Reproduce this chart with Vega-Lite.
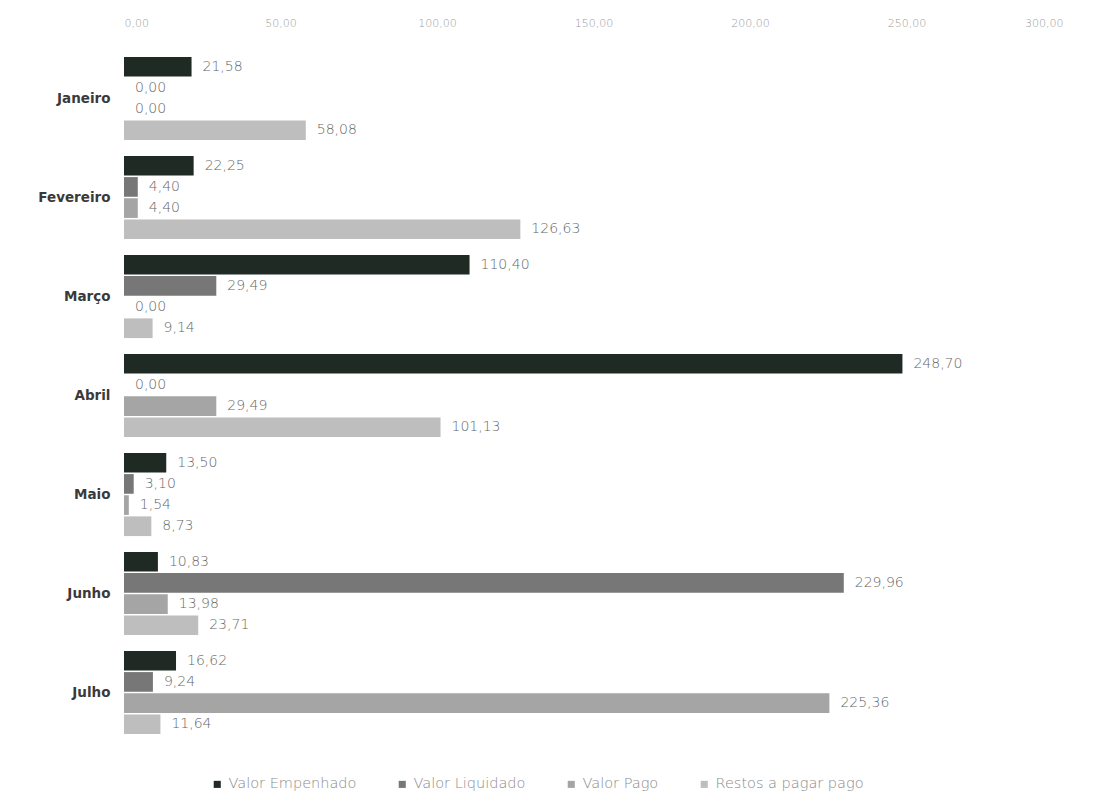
{
  "$schema": "https://vega.github.io/schema/vega-lite/v6.json",
  "autosize": "none",
  "width": 939,
  "height": 693,
  "padding": {"left": 124, "top": 49, "right": 34, "bottom": 53},
  "background": "white",
  "data": {
    "values": [
      {"mes": "Janeiro", "serie": "Valor Empenhado", "valor": 21.58},
      {"mes": "Janeiro", "serie": "Valor Liquidado", "valor": 0},
      {"mes": "Janeiro", "serie": "Valor Pago", "valor": 0},
      {"mes": "Janeiro", "serie": "Restos a pagar pago", "valor": 58.08},
      {"mes": "Fevereiro", "serie": "Valor Empenhado", "valor": 22.25},
      {"mes": "Fevereiro", "serie": "Valor Liquidado", "valor": 4.40},
      {"mes": "Fevereiro", "serie": "Valor Pago", "valor": 4.40},
      {"mes": "Fevereiro", "serie": "Restos a pagar pago", "valor": 126.63},
      {"mes": "Março", "serie": "Valor Empenhado", "valor": 110.40},
      {"mes": "Março", "serie": "Valor Liquidado", "valor": 29.49},
      {"mes": "Março", "serie": "Valor Pago", "valor": 0},
      {"mes": "Março", "serie": "Restos a pagar pago", "valor": 9.14},
      {"mes": "Abril", "serie": "Valor Empenhado", "valor": 248.70},
      {"mes": "Abril", "serie": "Valor Liquidado", "valor": 0},
      {"mes": "Abril", "serie": "Valor Pago", "valor": 29.49},
      {"mes": "Abril", "serie": "Restos a pagar pago", "valor": 101.13},
      {"mes": "Maio", "serie": "Valor Empenhado", "valor": 13.50},
      {"mes": "Maio", "serie": "Valor Liquidado", "valor": 3.10},
      {"mes": "Maio", "serie": "Valor Pago", "valor": 1.54},
      {"mes": "Maio", "serie": "Restos a pagar pago", "valor": 8.73},
      {"mes": "Junho", "serie": "Valor Empenhado", "valor": 10.83},
      {"mes": "Junho", "serie": "Valor Liquidado", "valor": 229.96},
      {"mes": "Junho", "serie": "Valor Pago", "valor": 13.98},
      {"mes": "Junho", "serie": "Restos a pagar pago", "valor": 23.71},
      {"mes": "Julho", "serie": "Valor Empenhado", "valor": 16.62},
      {"mes": "Julho", "serie": "Valor Liquidado", "valor": 9.24},
      {"mes": "Julho", "serie": "Valor Pago", "valor": 225.36},
      {"mes": "Julho", "serie": "Restos a pagar pago", "valor": 11.64}
    ]
  },
  "encoding": {
    "y": {
      "field": "mes", "type": "nominal",
      "sort": ["Janeiro", "Fevereiro", "Março", "Abril", "Maio", "Junho", "Julho"],
      "scale": {"paddingInner": 0.16, "paddingOuter": 0.08},
      "axis": {"title": null, "domain": false, "ticks": false, "labelPadding": 14, "labelFontSize": 13.5, "labelFontWeight": "bold", "labelColor": "#3a3a3a", "labelFont": "DejaVu Sans"}
    },
    "yOffset": {
      "field": "serie", "type": "nominal",
      "sort": ["Valor Empenhado", "Valor Liquidado", "Valor Pago", "Restos a pagar pago"],
      "scale": {"paddingInner": 0.07}
    },
    "x": {
      "field": "valor", "type": "quantitative",
      "scale": {"domain": [0, 300], "nice": false},
      "axis": {"orient": "top", "title": null, "values": [0, 50, 100, 150, 200, 250, 300], "format": ".2f", "domain": false, "ticks": false, "grid": false, "labelPadding": 21, "labelFontSize": 11, "labelFontWeight": 300, "labelColor": "#999999", "labelFont": "DejaVu Sans"}
    }
  },
  "layer": [
    {
      "mark": {"type": "bar"},
      "encoding": {
        "color": {
          "field": "serie", "type": "nominal",
          "sort": ["Valor Empenhado", "Valor Liquidado", "Valor Pago", "Restos a pagar pago"],
          "scale": {"domain": ["Valor Empenhado", "Valor Liquidado", "Valor Pago", "Restos a pagar pago"], "range": ["#1f2a25", "#777777", "#a5a5a5", "#bebebe"]},
          "legend": {"title": null, "orient": "none", "legendX": 86, "legendY": 728, "direction": "horizontal", "symbolType": "square", "symbolSize": 50, "labelFontSize": 14.5, "labelFontWeight": 300, "labelColor": "#8a8a8a", "labelFont": "DejaVu Sans", "columnPadding": 38, "symbolStrokeWidth": 0}
        }
      }
    },
    {
      "mark": {"type": "text", "align": "left", "baseline": "middle", "dx": 11, "fontSize": 14, "fontWeight": 300, "color": "#666666", "font": "DejaVu Sans"},
      "encoding": {
        "text": {"field": "valor", "type": "quantitative", "format": ".2f"}
      }
    }
  ],
  "config": {
    "view": {"stroke": null},
    "locale": {"number": {"decimal": ",", "thousands": ".", "grouping": [3], "currency": ["R$", ""]}}
  }
}
